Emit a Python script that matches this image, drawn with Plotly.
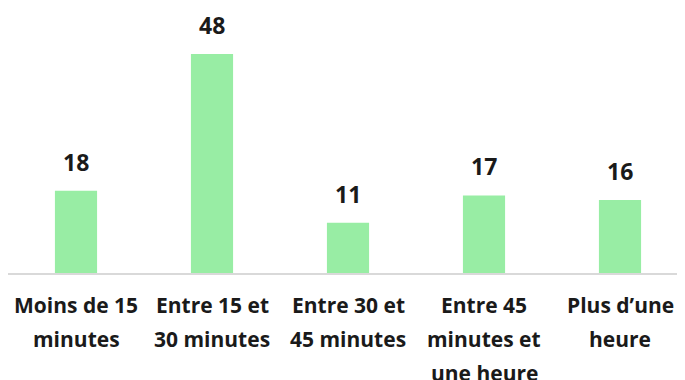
import plotly.graph_objects as go

label_lines = [
    ["Moins de 15", "minutes"],
    ["Entre 15 et", "30 minutes"],
    ["Entre 30 et", "45 minutes"],
    ["Entre 45", "minutes et", "une heure"],
    ["Plus d\u2019une", "heure"],
]
categories = [" ".join(lines) for lines in label_lines]
values = [18, 48, 11, 17, 16]

bar_color = "#98EDA4"
text_color = "#1A1A1A"
font_family = "'Open Sans', Lato, sans-serif"

fig = go.Figure()
fig.add_trace(go.Bar(
    x=categories,
    y=values,
    marker=dict(color=bar_color, line=dict(width=0)),
    hoverinfo="skip",
))

# value labels above the bars
for cat, val in zip(categories, values):
    fig.add_annotation(
        x=cat, y=val, text=f"<b>{val}</b>",
        showarrow=False, yanchor="bottom", yshift=11,
        font=dict(size=23, color=text_color, family=font_family),
    )

# category labels, one line at a time (wider line spacing than <br>)
for cat, lines in zip(categories, label_lines):
    for i, line in enumerate(lines):
        fig.add_annotation(
            x=cat, xref="x", y=0, yref="paper", text=f"<b>{line}</b>",
            showarrow=False, yanchor="middle", yshift=-(32 + 34 * i),
            font=dict(size=21, color=text_color, family=font_family),
        )

fig.update_layout(
    width=685, height=380,
    margin=dict(l=0, r=5, t=14, b=115),
    paper_bgcolor="white", plot_bgcolor="white",
    bargap=0.69,
    showlegend=False,
    xaxis=dict(
        range=[-0.5, 4.5],
        showline=True, linecolor="#D9D9D9", linewidth=1.5,
        showticklabels=False, ticks="",
        showgrid=False,
    ),
    yaxis=dict(range=[0, 55], visible=False, showgrid=False, zeroline=False),
)

fig.write_html("out.html")
